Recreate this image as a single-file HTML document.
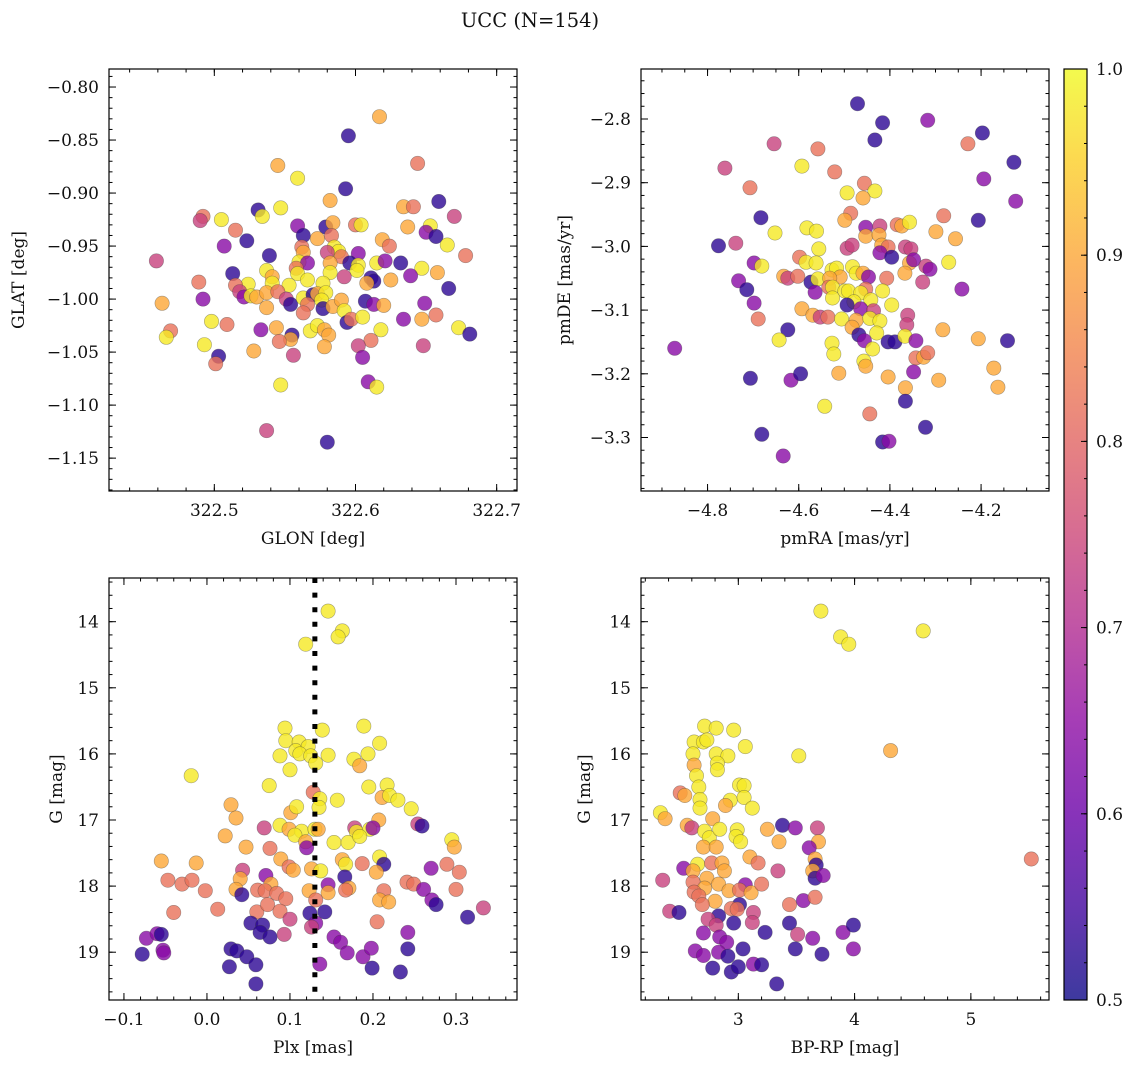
<!DOCTYPE html>
<html><head><meta charset="utf-8"><title>UCC (N=154)</title>
<style>
html,body{margin:0;padding:0;background:#fff;}
svg{display:block;font-family:"DejaVu Serif","Liberation Serif",serif;}
</style></head>
<body>
<svg id="fig" width="1136" height="1068" viewBox="0 0 1136 1068" xmlns="http://www.w3.org/2000/svg">
<rect x="0" y="0" width="1136" height="1068" fill="#fff"/>
<text x="530" y="27" font-size="19.5" text-anchor="middle" fill="#111">UCC (N=154)</text>
<defs>
<linearGradient id="cbgrad" x1="0" y1="1" x2="0" y2="0">
<stop offset="0" stop-color="#0d0887"/><stop offset="0.1" stop-color="#41049d"/><stop offset="0.2" stop-color="#6a00a8"/><stop offset="0.3" stop-color="#8f0da4"/><stop offset="0.4" stop-color="#b12a90"/><stop offset="0.5" stop-color="#cc4778"/><stop offset="0.6" stop-color="#e16462"/><stop offset="0.7" stop-color="#f2844b"/><stop offset="0.8" stop-color="#fca636"/><stop offset="0.9" stop-color="#fcce25"/><stop offset="1" stop-color="#f0f921"/>
</linearGradient>
</defs>
</svg>
<script>
// ---------- Panel 1: GLON vs GLAT ----------
const glon = [322.617,322.595,322.644,322.545,322.559,322.593,322.582,322.659,322.547,322.634,322.641,322.531,322.534,322.492,322.490,322.505,322.670,322.515,322.559,322.579,322.584,322.600,322.604,322.637,322.653,322.650,322.657,322.563,322.573,322.583,322.523,322.507,322.619,322.624,322.665,322.562,322.563,322.585,322.588,322.580,322.459,322.539,322.602,322.590,322.678,322.560,322.566,322.582,322.596,322.602,322.615,322.621,322.632,322.537,322.558,322.582,322.601,322.647,322.658,322.513,322.541,322.559,322.592,322.611,322.613,322.639,322.489,322.566,322.541,322.553,322.577,322.608,322.625,322.524,322.515,322.518,322.666,322.463,322.492,322.521,322.526,322.530,322.537,322.545,322.551,322.554,322.563,322.570,322.573,322.579,322.566,322.576,322.537,322.563,322.577,322.584,322.590,322.592,322.607,322.613,322.620,322.649,322.594,322.597,322.605,322.634,322.647,322.657,322.498,322.509,322.469,322.466,322.533,322.544,322.555,322.554,322.546,322.568,322.573,322.578,322.581,322.618,322.611,322.673,322.681,322.493,322.528,322.578,322.602,322.648,322.556,322.605,322.503,322.501,322.609,322.615,322.547,322.537,322.580];
const glat = [-0.828,-0.846,-0.872,-0.874,-0.886,-0.896,-0.907,-0.908,-0.914,-0.913,-0.913,-0.916,-0.922,-0.922,-0.926,-0.925,-0.922,-0.935,-0.931,-0.932,-0.928,-0.930,-0.930,-0.932,-0.931,-0.937,-0.941,-0.940,-0.943,-0.940,-0.945,-0.950,-0.944,-0.950,-0.949,-0.951,-0.956,-0.951,-0.955,-0.956,-0.964,-0.959,-0.957,-0.960,-0.959,-0.965,-0.966,-0.966,-0.966,-0.968,-0.966,-0.964,-0.966,-0.973,-0.971,-0.975,-0.973,-0.971,-0.975,-0.976,-0.979,-0.976,-0.979,-0.980,-0.983,-0.978,-0.984,-0.982,-0.985,-0.987,-0.985,-0.985,-0.982,-0.986,-0.987,-0.993,-0.990,-1.004,-1.000,-0.998,-0.997,-0.998,-0.994,-0.993,-1.000,-1.005,-0.999,-0.996,-0.995,-0.994,-1.005,-1.001,-1.008,-1.013,-1.009,-1.007,-1.001,-1.011,-1.002,-1.005,-1.006,-1.004,-1.022,-1.019,-1.017,-1.019,-1.019,-1.015,-1.021,-1.024,-1.030,-1.036,-1.029,-1.027,-1.034,-1.038,-1.040,-1.030,-1.025,-1.029,-1.034,-1.029,-1.039,-1.027,-1.033,-1.043,-1.049,-1.045,-1.044,-1.044,-1.053,-1.055,-1.054,-1.061,-1.078,-1.083,-1.081,-1.124,-1.135];
const prob1 = [0.90,0.53,0.82,0.90,0.98,0.53,0.90,0.53,0.98,0.90, 0.82,0.53,0.98,0.82,0.74,0.98,0.74,0.82,0.64,0.53, 0.90,0.82,0.98,0.90,0.98,0.64,0.53,0.53,0.90,0.82, 0.53,0.64,0.90,0.82,0.98,0.82,0.90,0.98,0.98,0.74, 0.74,0.53,0.64,0.82,0.82,0.98,0.64,0.90,0.53,0.98, 0.98,0.64,0.53,0.98,0.82,0.98,0.98,0.98,0.90,0.53, 0.90,0.98,0.74,0.53,0.53,0.64,0.82,0.98,0.98,0.98, 0.98,0.90,0.90,0.98,0.82,0.74,0.53,0.90,0.64,0.64, 0.98,0.90,0.90,0.82,0.74,0.53,0.98,0.53,0.90, 0.98,0.82,0.98,0.90,0.82,0.53,0.90,0.90,0.98,0.53, 0.64,0.90,0.64,0.53,0.82,0.98,0.64,0.90,0.82,0.98, 0.82,0.82,0.98,0.64,0.90,0.53,0.90,0.82,0.98,0.98, 0.90,0.90,0.98,0.82,0.98,0.53,0.98,0.90,0.90,0.74, 0.74,0.74,0.64,0.53,0.82,0.64,0.98,0.98,0.74,0.53];

// ---------- Panel 2: pmRA vs pmDE ----------
const pmra = [-4.471,-4.416,-4.317,-4.197,-4.433,-4.654,-4.558,-4.229,-4.128,-4.762,-4.593,-4.521,-4.194,-4.707,-4.456,-4.494,-4.433,-4.459,-4.124,-4.683,-4.486,-4.499,-4.282,-4.206,-4.453,-4.422,-4.384,-4.374,-4.357,-4.652,-4.582,-4.561,-4.299,-4.453,-4.424,-4.256,-4.776,-4.738,-4.556,-4.494,-4.483,-4.418,-4.404,-4.366,-4.354,-4.422,-4.396,-4.598,-4.584,-4.562,-4.698,-4.681,-4.357,-4.348,-4.321,-4.312,-4.271,-4.527,-4.517,-4.482,-4.474,-4.459,-4.367,-4.633,-4.624,-4.602,-4.509,-4.447,-4.407,-4.732,-4.573,-4.558,-4.532,-4.328,-4.534,-4.526,-4.714,-4.242,-4.453,-4.499,-4.491,-4.564,-4.464,-4.416,-4.526,-4.479,-4.442,-4.698,-4.494,-4.464,-4.396,-4.593,-4.436,-4.361,-4.689,-4.569,-4.553,-4.536,-4.506,-4.474,-4.444,-4.422,-4.483,-4.363,-4.284,-4.624,-4.429,-4.468,-4.456,-4.404,-4.389,-4.367,-4.343,-4.206,-4.142,-4.643,-4.872,-4.527,-4.523,-4.438,-4.343,-4.326,-4.317,-4.457,-4.453,-4.172,-4.348,-4.706,-4.617,-4.596,-4.512,-4.404,-4.293,-4.366,-4.163,-4.366,-4.543,-4.444,-4.322,-4.681,-4.416,-4.402,-4.634];
const pmde = [-2.776,-2.806,-2.802,-2.822,-2.833,-2.839,-2.847,-2.839,-2.868,-2.877,-2.874,-2.883,-2.894,-2.908,-2.901,-2.916,-2.913,-2.924,-2.929,-2.955,-2.948,-2.959,-2.952,-2.959,-2.970,-2.968,-2.966,-2.968,-2.962,-2.979,-2.971,-2.976,-2.977,-2.984,-2.982,-2.988,-2.999,-2.995,-3.004,-3.003,-2.998,-2.998,-3.001,-3.001,-3.004,-3.010,-3.017,-3.017,-3.025,-3.026,-3.026,-3.031,-3.026,-3.021,-3.031,-3.036,-3.025,-3.037,-3.034,-3.032,-3.042,-3.042,-3.042,-3.047,-3.050,-3.047,-3.048,-3.048,-3.050,-3.054,-3.056,-3.051,-3.050,-3.056,-3.064,-3.064,-3.068,-3.067,-3.067,-3.070,-3.070,-3.072,-3.073,-3.070,-3.081,-3.087,-3.084,-3.089,-3.092,-3.098,-3.092,-3.098,-3.101,-3.108,-3.114,-3.108,-3.111,-3.111,-3.114,-3.116,-3.113,-3.117,-3.127,-3.123,-3.131,-3.131,-3.136,-3.139,-3.148,-3.150,-3.150,-3.141,-3.148,-3.145,-3.148,-3.147,-3.160,-3.152,-3.169,-3.161,-3.175,-3.174,-3.167,-3.180,-3.188,-3.191,-3.197,-3.207,-3.210,-3.200,-3.199,-3.205,-3.210,-3.222,-3.221,-3.243,-3.251,-3.263,-3.284,-3.295,-3.307,-3.306,-3.329];
const prob2 = [0.53,0.53,0.64,0.53,0.53,0.74,0.82,0.82,0.53,0.74, 0.98,0.82,0.64,0.82,0.82,0.98,0.98,0.90,0.64,0.53, 0.82,0.90,0.82,0.53,0.64,0.74,0.82,0.90,0.98,0.98, 0.98,0.98,0.90,0.90,0.90,0.90,0.53,0.74,0.98,0.74, 0.74,0.90,0.82,0.74,0.74,0.64,0.53,0.82,0.98,0.98, 0.64,0.98,0.90,0.64,0.74,0.64,0.98,0.98,0.98,0.98, 0.98,0.90,0.90,0.90,0.74,0.82,0.90,0.64,0.82,0.64, 0.53,0.98,0.90,0.74,0.82,0.98,0.53,0.64,0.82,0.98, 0.98,0.64,0.98,0.98,0.98,0.98,0.98,0.64,0.53,0.64, 0.98,0.90,0.74,0.74,0.82,0.90,0.74,0.82,0.98,0.90, 0.98,0.98,0.90,0.74,0.90,0.53,0.98,0.53,0.64,0.53, 0.53,0.98,0.64,0.90,0.53,0.98,0.64,0.98,0.98,0.98, 0.82,0.90,0.82,0.98,0.90,0.90,0.64,0.53,0.64,0.53, 0.90,0.90,0.90,0.90,0.90,0.53,0.98,0.82,0.53,0.53, 0.53,0.64,0.64];

// ---------- Panel 3: Plx vs G ----------
const plx = [0.146,0.163,0.158,0.119,-0.019,0.094,0.139,0.189,0.095,0.111,0.208,0.107,0.122,0.088,0.112,0.125,0.146,0.194,0.100,0.131,0.177,0.184,0.075,0.195,0.217,0.128,0.136,0.157,0.211,0.220,0.230,0.246,0.135,0.029,0.101,0.108,0.035,0.207,0.069,0.088,0.099,0.114,0.130,0.134,0.178,0.180,0.196,0.200,0.254,0.259,0.022,0.106,0.119,0.120,0.153,0.170,0.184,0.295,0.298,0.047,0.076,-0.055,-0.013,0.089,0.099,0.104,0.126,0.137,0.163,0.167,0.187,0.208,0.213,0.204,0.289,0.304,0.270,0.043,0.040,0.071,-0.047,-0.030,-0.018,0.166,0.077,0.146,0.171,0.241,0.249,-0.002,0.035,0.061,0.070,0.084,0.123,0.146,0.167,0.213,0.261,0.300,0.042,0.095,0.131,0.208,0.219,0.271,0.276,0.013,-0.040,0.060,0.073,0.088,0.124,0.142,0.100,0.314,0.333,0.205,0.053,0.067,0.131,0.126,0.064,0.076,0.093,0.242,-0.073,-0.060,-0.055,0.153,0.161,-0.078,-0.053,-0.052,0.029,0.036,0.048,0.169,0.188,0.198,0.242,0.027,0.059,0.136,0.199,0.233,0.059];
const gmag3 = [13.84,14.14,14.23,14.34,16.33,15.61,15.64,15.58,15.80,15.82,15.84,15.95,15.89,16.03,16.00,16.03,16.02,16.00,16.24,16.14,16.08,16.18,16.48,16.50,16.47,16.58,16.68,16.70,16.66,16.63,16.70,16.83,16.81,16.77,16.89,16.80,16.97,17.00,17.12,17.08,17.14,17.17,17.14,17.14,17.12,17.18,17.14,17.12,17.06,17.09,17.24,17.23,17.33,17.42,17.34,17.34,17.25,17.30,17.41,17.41,17.43,17.62,17.65,17.59,17.71,17.76,17.74,17.77,17.60,17.67,17.66,17.56,17.67,17.79,17.67,17.79,17.73,17.76,17.89,17.84,17.91,17.97,17.91,17.86,17.97,17.98,18.03,17.94,17.97,18.07,18.05,18.06,18.07,18.11,18.07,18.10,18.06,18.07,18.05,18.05,18.13,18.19,18.21,18.21,18.24,18.21,18.28,18.35,18.40,18.39,18.28,18.38,18.41,18.39,18.50,18.47,18.33,18.54,18.56,18.59,18.56,18.62,18.70,18.77,18.73,18.70,18.79,18.72,18.73,18.77,18.85,19.03,18.97,19.01,18.95,18.98,19.07,19.01,19.07,18.94,18.95,19.22,19.19,19.18,19.24,19.30,19.48];
const prob3 = [0.98,0.98,0.98,0.98,0.98,0.98,0.98,0.98,0.98,0.98, 0.98,0.98,0.98,0.98,0.98,0.98,0.98,0.98,0.98,0.98, 0.98,0.90,0.98,0.98,0.98,0.82,0.98,0.98,0.90,0.98, 0.98,0.98,0.98,0.90,0.90,0.98,0.90,0.90,0.74,0.98, 0.90,0.98,0.98,0.90,0.74,0.98,0.98,0.64,0.74,0.53, 0.90,0.98,0.90,0.64,0.98,0.98,0.98,0.98,0.90,0.90, 0.82,0.90,0.90,0.90,0.82,0.90,0.90,0.98,0.90,0.98, 0.82,0.98,0.53,0.90,0.82,0.82,0.64,0.74,0.90,0.64, 0.82,0.82,0.82,0.53,0.90,0.64,0.90,0.82,0.82,0.82, 0.90,0.82,0.82,0.82,0.90,0.90,0.82,0.82,0.64,0.82, 0.53,0.82,0.82,0.90,0.90,0.64,0.53,0.82,0.82,0.82, 0.82,0.82,0.53,0.53,0.74,0.53,0.74,0.82,0.53,0.53, 0.64,0.74,0.53,0.53,0.74,0.64,0.64,0.64,0.53,0.64, 0.64,0.53,0.64,0.64,0.53,0.53,0.53,0.64,0.64,0.64, 0.53,0.53,0.53,0.64,0.53,0.53,0.53];
const plxLine = 0.130;

// ---------- Panel 4: BP-RP vs G ----------
const bprp = [3.71,3.88,3.95,4.59,4.31,3.52,2.71,2.81,2.96,2.62,2.70,2.73,3.06,2.61,2.81,2.91,2.62,2.82,2.82,2.64,2.66,3.01,3.05,2.50,2.54,2.67,2.67,2.93,2.89,3.05,3.12,2.33,2.37,2.78,2.56,2.60,2.71,2.75,2.84,2.99,2.98,3.02,3.25,3.38,3.49,3.68,3.35,3.69,3.61,2.70,2.81,3.10,3.17,3.66,3.67,3.64,3.66,3.73,5.52,2.53,2.65,2.61,2.77,2.86,2.88,3.34,2.35,2.73,2.61,2.83,2.71,2.92,3.06,3.01,3.11,3.20,2.62,2.66,2.80,2.69,3.01,2.94,2.99,3.13,3.44,3.56,3.66,2.41,2.49,2.83,2.74,2.81,2.96,3.12,2.70,3.23,3.44,3.51,3.64,3.90,3.99,2.84,2.90,2.63,2.70,2.83,2.91,3.04,3.49,3.72,3.99,2.78,2.94,3.00,3.13,3.20,3.33];
const gmag4 = [13.84,14.23,14.34,14.14,15.95,16.03,15.58,15.61,15.64,15.82,15.82,15.79,15.89,16.00,16.00,16.03,16.17,16.14,16.24,16.33,16.50,16.47,16.48,16.59,16.63,16.69,16.82,16.70,16.78,16.66,16.82,16.89,16.98,16.98,17.08,17.12,17.17,17.27,17.14,17.15,17.25,17.33,17.14,17.08,17.12,17.12,17.33,17.33,17.42,17.41,17.41,17.56,17.65,17.59,17.68,17.77,17.88,17.84,17.59,17.73,17.67,17.77,17.65,17.65,17.77,17.77,17.91,17.88,17.94,17.97,18.03,18.07,17.98,18.06,18.10,17.97,18.09,18.15,18.23,18.28,18.28,18.34,18.35,18.40,18.28,18.22,18.17,18.38,18.40,18.45,18.50,18.59,18.56,18.55,18.71,18.70,18.56,18.73,18.79,18.70,18.59,18.77,18.85,18.98,19.05,19.00,19.06,18.95,18.95,19.03,18.95,19.24,19.30,19.22,19.18,19.19,19.48];
const prob4 = [0.98,0.98,0.98,0.98,0.90,0.98,0.98,0.98,0.98,0.98, 0.98,0.98,0.98,0.98,0.98,0.98,0.90,0.98,0.98,0.98, 0.98,0.98,0.98,0.82,0.90,0.98,0.98,0.98,0.90,0.98, 0.98,0.98,0.90,0.90,0.90,0.74,0.98,0.98,0.98,0.98, 0.98,0.98,0.90,0.53,0.64,0.74,0.90,0.90,0.64,0.90, 0.90,0.90,0.82,0.90,0.53,0.90,0.53,0.64,0.82,0.64, 0.98,0.90,0.82,0.90,0.90,0.74,0.74,0.90,0.82,0.90, 0.90,0.90,0.64,0.82,0.90,0.82,0.82,0.82,0.90,0.82, 0.53,0.82,0.82,0.74,0.82,0.64,0.82,0.74,0.53,0.53, 0.74,0.74,0.53,0.74,0.64,0.53,0.53,0.74,0.64,0.64, 0.53,0.64,0.64,0.64,0.64,0.64,0.53,0.53,0.53,0.53, 0.64,0.53,0.53,0.53,0.64,0.53,0.53];

// ---------- Colorbar ----------
const cbTicks = [0.5,0.6,0.7,0.8,0.9,1.0];
const cbMin = 0.5, cbMax = 1.0;

const NS = 'http://www.w3.org/2000/svg';
const svg = document.getElementById('fig');
const STOPS = [[13,8,135],[65,4,157],[106,0,168],[143,13,164],[177,42,144],[204,71,120],[225,100,98],[242,132,75],[252,166,54],[252,206,37],[240,249,33]];
function plasma(v){
  let t = (v - cbMin) / (cbMax - cbMin);
  t = Math.max(0, Math.min(1, t)) * 10;
  const i = Math.min(9, Math.floor(t)), f = t - i;
  const a = STOPS[i], b = STOPS[i+1];
  return 'rgb(' + [0,1,2].map(k => Math.round(a[k] + (b[k]-a[k]) * f)).join(',') + ')';
}
function mk(tag, attrs, parent){
  const e = document.createElementNS(NS, tag);
  for (const k in attrs) e.setAttribute(k, attrs[k]);
  (parent || svg).appendChild(e);
  return e;
}
function fmt(v, d){ const s = Math.abs(v).toFixed(d); return (v < -1e-9 ? '\u2212' : '') + s; }
const FS = 17;

function panel(c){
  const g = mk('g', {});
  
  
  const sx = v => c.L + (v - c.x0) / (c.x1 - c.x0) * (c.R - c.L);
  const sy = v => c.B - (v - c.y0) / (c.y1 - c.y0) * (c.B - c.T);
  const pg = mk('g', {}, g);
  
  
  for (let i = 0; i < c.xs.length; i++){
    const p = mk('circle', {cx: sx(c.xs[i]).toFixed(1), cy: sy(c.ys[i]).toFixed(1), r: 7.2, fill: plasma(c.ps[i]), 'fill-opacity': 0.8, stroke: 'rgba(60,60,60,0.45)', 'stroke-width': 0.6}, pg);
    
    
  }
  if (c.vline !== undefined){
    const ln = mk('line', {x1: sx(c.vline), x2: sx(c.vline), y1: c.T, y2: c.B, stroke: '#000', 'stroke-width': 5, 'stroke-dasharray': '5 9.6'}, g);
    
    
  }
  const fr = mk('rect', {x: c.L, y: c.T, width: c.R - c.L, height: c.B - c.T, fill: 'none', stroke: '#000', 'stroke-width': 1.2}, g);
  
  
  const tk = mk('g', {stroke: '#000', 'stroke-width': 1}, g);
  
  
  const xlo = Math.min(c.x0, c.x1), xhi = Math.max(c.x0, c.x1);
  const ylo = Math.min(c.y0, c.y1), yhi = Math.max(c.y0, c.y1);
  for (let k = Math.ceil(xlo / c.xm - 1e-6); k * c.xm <= xhi + 1e-9; k++){
    const x = sx(k * c.xm);
    mk('line', {x1: x, x2: x, y1: c.B, y2: c.B - 3.5}, tk);
    mk('line', {x1: x, x2: x, y1: c.T, y2: c.T + 3.5}, tk);
  }
  for (let k = Math.ceil(ylo / c.ym - 1e-6); k * c.ym <= yhi + 1e-9; k++){
    const y = sy(k * c.ym);
    mk('line', {x1: c.L, x2: c.L + 3.5, y1: y, y2: y}, tk);
    mk('line', {x1: c.R, x2: c.R - 3.5, y1: y, y2: y}, tk);
  }
  c.xt.forEach(v => {
    const x = sx(v);
    mk('line', {x1: x, x2: x, y1: c.B, y2: c.B - 7}, tk);
    mk('line', {x1: x, x2: x, y1: c.T, y2: c.T + 7}, tk);
    const t = mk('text', {x: x, y: c.B + 25, 'font-size': FS, 'text-anchor': 'middle', fill: '#111'}, g);
    t.textContent = fmt(v, c.xd);
    
    
  });
  c.yt.forEach(v => {
    const y = sy(v);
    mk('line', {x1: c.L, x2: c.L + 7, y1: y, y2: y}, tk);
    mk('line', {x1: c.R, x2: c.R - 7, y1: y, y2: y}, tk);
    const t = mk('text', {x: c.L - 10, y: y + 6, 'font-size': FS, 'text-anchor': 'end', fill: '#111'}, g);
    t.textContent = fmt(v, c.yd);
    
    
  });
  const xl = mk('text', {x: (c.L + c.R) / 2, y: c.B + 53, 'font-size': FS, 'text-anchor': 'middle', fill: '#111'}, g);
  xl.textContent = c.xlabel;
  
  
  const yc = (c.T + c.B) / 2;
  const yl = mk('text', {x: c.ylx, y: yc, 'font-size': FS, 'text-anchor': 'middle', fill: '#111', transform: 'rotate(-90 ' + c.ylx + ' ' + yc + ')'}, g);
  yl.textContent = c.ylabel;
  
  
}

panel({name: 'glon-glat-panel', L: 109, R: 517, T: 69, B: 491,
  x0: 322.4254, x1: 322.7144, y0: -1.181, y1: -0.783,
  xt: [322.5, 322.6, 322.7], xm: 0.02, xd: 1,
  yt: [-0.80,-0.85,-0.90,-0.95,-1.00,-1.05,-1.10,-1.15], ym: 0.01, yd: 2,
  xlabel: 'GLON [deg]', ylabel: 'GLAT [deg]', ylx: 24,
  xs: glon, ys: glat, ps: prob1});
panel({name: 'pmra-pmde-panel', L: 641, R: 1049, T: 69, B: 491,
  x0: -4.946, x1: -4.051, y0: -3.384, y1: -2.7215,
  xt: [-4.8,-4.6,-4.4,-4.2], xm: 0.05, xd: 1,
  yt: [-2.8,-2.9,-3.0,-3.1,-3.2,-3.3], ym: 0.02, yd: 1,
  xlabel: 'pmRA [mas/yr]', ylabel: 'pmDE [mas/yr]', ylx: 570,
  xs: pmra, ys: pmde, ps: prob2});
panel({name: 'plx-g-panel', L: 109, R: 517, T: 578, B: 1000,
  x0: -0.118, x1: 0.3735, y0: 19.723, y1: 13.339,
  xt: [-0.1,0.0,0.1,0.2,0.3], xm: 0.02, xd: 1,
  yt: [14,15,16,17,18,19], ym: 0.2, yd: 0,
  xlabel: 'Plx [mas]', ylabel: 'G [mag]', ylx: 62,
  xs: plx, ys: gmag3, ps: prob3, vline: plxLine});
panel({name: 'bprp-g-panel', L: 641, R: 1049, T: 578, B: 1000,
  x0: 2.163, x1: 5.672, y0: 19.723, y1: 13.339,
  xt: [3,4,5], xm: 0.2, xd: 0,
  yt: [14,15,16,17,18,19], ym: 0.2, yd: 0,
  xlabel: 'BP-RP [mag]', ylabel: 'G [mag]', ylx: 590,
  xs: bprp, ys: gmag4, ps: prob4});

(function(){
  const L = 1064, R = 1087, T = 69, B = 1000;
  const g = mk('g', {});
  
  
  mk('rect', {x: L, y: T, width: R - L, height: B - T, fill: 'url(#cbgrad)', 'fill-opacity': 0.8}, g);
  mk('rect', {x: L, y: T, width: R - L, height: B - T, fill: 'none', stroke: '#000', 'stroke-width': 1.2}, g);
  const sy = v => B - (v - cbMin) / (cbMax - cbMin) * (B - T);
  for (let k = 25; k <= 50; k++){
    const y = sy(k / 50);
    mk('line', {x1: R, x2: R - 3, y1: y, y2: y, stroke: '#000', 'stroke-width': 1}, g);
  }
  cbTicks.forEach(v => {
    const y = sy(v);
    mk('line', {x1: R, x2: R - 6, y1: y, y2: y, stroke: '#000', 'stroke-width': 1}, g);
    const t = mk('text', {x: R + 9, y: y + 6, 'font-size': FS, fill: '#111'}, g);
    t.textContent = v.toFixed(1);
    
    
  });
})();
</script>
</body></html>
